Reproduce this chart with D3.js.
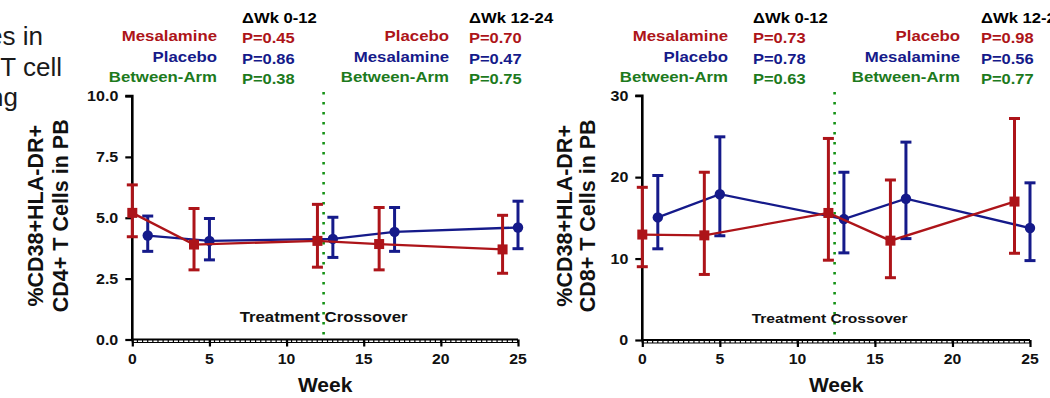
<!DOCTYPE html>
<html>
<head>
<meta charset="utf-8">
<script src="https://cdn.jsdelivr.net/npm/d3@7/dist/d3.min.js"></script>
<style>
  html, body { margin: 0; padding: 0; background: #fff; overflow: hidden; }
  svg { display: block; }
  text { font-family: "Liberation Sans", Arial, sans-serif; }
</style>
</head>
<body>
<svg id="chart" width="1050" height="398"></svg>
<script>
// ---------------- DATA ----------------
const weeksRed = [0, 4, 12, 16, 24];   // Mesalamine -> Placebo
const weeksBlue = [1, 5, 13, 17, 25];  // Placebo -> Mesalamine
const crossoverWeek = 12.4;

const cd4RedMean  = [5.20, 3.90, 4.05, 3.92, 3.70];
const cd4RedUpper = [6.35, 5.38, 5.55, 5.42, 5.10];
const cd4RedLower = [4.22, 2.86, 2.97, 2.86, 2.72];
const cd4BlueMean  = [4.27, 4.05, 4.13, 4.42, 4.60];
const cd4BlueUpper = [5.07, 4.97, 5.02, 5.42, 5.68];
const cd4BlueLower = [3.62, 3.27, 3.37, 3.62, 3.73];

const cd8RedMean  = [12.95, 12.85, 15.60, 12.20, 17.00];
const cd8RedUpper = [18.75, 20.60, 24.75, 19.65, 27.20];
const cd8RedLower = [9.00, 8.05, 9.80, 7.65, 10.65];
const cd8BlueMean  = [15.05, 17.90, 14.85, 17.35, 13.75];
const cd8BlueUpper = [20.20, 24.95, 20.60, 24.30, 19.30];
const cd8BlueLower = [11.20, 12.80, 10.70, 12.45, 9.75];

const xTicks = [0, 5, 10, 15, 20, 25];
const cd4YTicks = [0, 2.5, 5, 7.5, 10];
const cd8YTicks = [0, 10, 20, 30];

const cd4Title = ["%CD38+HLA-DR+", "CD4+ T Cells in PB"];
const cd8Title = ["%CD38+HLA-DR+", "CD8+ T Cells in PB"];
const xTitle = "Week";
const crossoverLabel = "Treatment Crossover";

const annoHeads = ["\u0394Wk 0-12", "\u0394Wk 12-24"];
const annoLabels1 = ["Mesalamine", "Placebo", "Between-Arm"];
const annoLabels2 = ["Placebo", "Mesalamine", "Between-Arm"];
const cd4P1 = ["P=0.45", "P=0.86", "P=0.38"];
const cd4P2 = ["P=0.70", "P=0.47", "P=0.75"];
const cd8P1 = ["P=0.73", "P=0.78", "P=0.63"];
const cd8P2 = ["P=0.98", "P=0.56", "P=0.77"];

const sideText = ["es in", "T cell", "ng"];

// ---------------- STYLE ----------------
const RED = "#AD1419";
const BLUE = "#151A8A";
const GREEN = "#1D7A1D";
const rowColors = [RED, BLUE, GREEN];

const svg = d3.select("#chart");

function txt(g, x, y, s, o) {
  o = o || {};
  return g.append("text")
    .attr("transform", `translate(${x},${y}) scale(${o.sx || 1},1)`)
    .attr("text-anchor", o.anchor || "start")
    .attr("font-size", o.size || 14)
    .attr("font-weight", o.weight || "bold")
    .attr("fill", o.color || "#000")
    .text(s);
}

// clipped slide text on the left
sideText.forEach((s, i) => {
  txt(svg, [43, 62, 18][i], [45, 76, 106][i], s, {anchor: "end", size: 26, weight: "normal", color: "#1a1a1a"});
});

function panel(cfg) {
  const g = svg.append("g");
  const x = d3.scaleLinear().domain([0, 25]).range([cfg.x0, cfg.x1]);
  const y = d3.scaleLinear().domain(cfg.yDomain).range([cfg.y0, cfg.y1]);

  // annotations
  [[cfg.lab1, cfg.p1, cfg.g1], [cfg.lab2, cfg.p2, cfg.g2]].forEach(([labs, ps, pos], gi) => {
    txt(g, pos[1], 22.5, annoHeads[gi], {sx: 1.19});
    labs.forEach((l, i) => {
      txt(g, pos[0], 41 + i * 20.5, l, {anchor: "end", sx: 1.2, color: rowColors[i]});
      txt(g, pos[1], 43 + i * 20.5, ps[i], {size: 15, sx: 1.1, color: rowColors[i]});
    });
  });

  // crossover dotted line
  g.append("line")
    .attr("x1", x(crossoverWeek)).attr("x2", x(crossoverWeek))
    .attr("y1", 92).attr("y2", cfg.y0)
    .attr("stroke", "#169216").attr("stroke-width", 2.6)
    .attr("stroke-dasharray", "2.6,7.4");

  txt(g, x(crossoverWeek) + cfg.crossDx, cfg.crossY, crossoverLabel,
      {anchor: "middle", size: cfg.crossSize, sx: 1.2, color: "#111"});

  // y axis
  const yAxis = d3.axisLeft(y).tickValues(cfg.yTicks).tickSize(7).tickFormat(cfg.yFmt);
  const ya = g.append("g").attr("transform", `translate(${cfg.x0},0)`).call(yAxis);
  ya.select(".domain").attr("stroke", "#000").attr("stroke-width", 2.6)
    .attr("d", `M-7,${cfg.y1}H0V${cfg.y0}`);
  ya.selectAll(".tick line").attr("stroke", "#000").attr("stroke-width", 2.2);
  ya.selectAll(".tick text").remove();
  cfg.yTicks.forEach(t => {
    txt(g, cfg.x0 - 14, y(t) + 5.3, cfg.yFmt(t), {anchor: "end", size: 15, sx: 1.07, color: "#111"});
  });

  // x axis
  const xAxis = d3.axisBottom(x).tickValues(xTicks).tickSize(7).tickFormat(d3.format("d"));
  const xa = g.append("g").attr("transform", `translate(0,${cfg.y0})`).call(xAxis);
  xa.select(".domain").attr("stroke", "#000").attr("stroke-width", 2).attr("d", `M${cfg.x0},0H${cfg.x1}`);
  xa.selectAll(".tick line").attr("stroke", "#000").attr("stroke-width", 2.2);
  xa.selectAll(".tick text").remove();
  // minor ticks (hatched look)
  const minor = d3.range(0, 25.01, 0.333);
  xa.selectAll(".minor").data(minor).enter().append("line")
    .attr("x1", d => x(d)).attr("x2", d => x(d))
    .attr("y1", 0).attr("y2", 3).attr("stroke", "#000").attr("stroke-width", 1.2);
  xa.append("line").attr("x1", cfg.x0).attr("x2", cfg.x1).attr("y1", 3).attr("y2", 3)
    .attr("stroke", "#000").attr("stroke-width", 1);
  xTicks.forEach(t => {
    txt(g, x(t), cfg.y0 + 24, String(t), {anchor: "middle", size: 15, sx: 1.05, color: "#111"});
  });

  // axis titles
  txt(g, (cfg.x0 + cfg.x1) / 2, 392, xTitle, {anchor: "middle", size: 21, color: "#111"});
  const midY = (cfg.y0 + cfg.y1) / 2 - 2;
  cfg.title.forEach((t, i) => {
    g.append("text")
      .attr("transform", `translate(${cfg.titleX[i]},${midY}) rotate(-90)`)
      .attr("text-anchor", "middle").attr("font-size", 21.5).attr("font-weight", "bold")
      .attr("fill", "#111").text(t);
  });

  // series
  function series(weeks, mean, up, lo, color, shape) {
    const line = d3.line().x((d, i) => x(weeks[i])).y(d => y(d));
    g.append("path").datum(mean).attr("d", line)
      .attr("fill", "none").attr("stroke", color).attr("stroke-width", 2.3);
    weeks.forEach((w, i) => {
      const cx = x(w);
      g.append("line").attr("x1", cx).attr("x2", cx).attr("y1", y(up[i])).attr("y2", y(lo[i]))
        .attr("stroke", color).attr("stroke-width", 3);
      [up[i], lo[i]].forEach(v => {
        g.append("line").attr("x1", cx - 5.5).attr("x2", cx + 5.5).attr("y1", y(v)).attr("y2", y(v))
          .attr("stroke", color).attr("stroke-width", 3);
      });
      if (shape === "square") {
        g.append("rect").attr("x", cx - 5).attr("y", y(mean[i]) - 5).attr("width", 10).attr("height", 10)
          .attr("fill", color);
      } else {
        g.append("circle").attr("cx", cx).attr("cy", y(mean[i])).attr("r", 5.2).attr("fill", color);
      }
    });
  }
  series(weeksBlue, cfg.blue[0], cfg.blue[1], cfg.blue[2], BLUE, "circle");
  series(weeksRed, cfg.red[0], cfg.red[1], cfg.red[2], RED, "square");
}

panel({
  x0: 132.3, x1: 518, y0: 339.5, y1: 96, yDomain: [0, 10],
  yTicks: cd4YTicks, yFmt: d3.format(".1f"),
  title: cd4Title, titleX: [43, 68],
  lab1: annoLabels1, p1: cd4P1, g1: [217, 242],
  lab2: annoLabels2, p2: cd4P2, g2: [449, 469],
  crossDx: 0, crossY: 322, crossSize: 14,
  red: [cd4RedMean, cd4RedUpper, cd4RedLower],
  blue: [cd4BlueMean, cd4BlueUpper, cd4BlueLower]
});

panel({
  x0: 642.3, x1: 1030, y0: 340, y1: 95.7, yDomain: [0, 30],
  yTicks: cd8YTicks, yFmt: d3.format("d"),
  title: cd8Title, titleX: [572, 595],
  lab1: annoLabels1, p1: cd8P1, g1: [728, 753],
  lab2: annoLabels2, p2: cd8P2, g2: [960, 981],
  crossDx: -5, crossY: 323, crossSize: 13,
  red: [cd8RedMean, cd8RedUpper, cd8RedLower],
  blue: [cd8BlueMean, cd8BlueUpper, cd8BlueLower]
});
</script>
</body>
</html>
